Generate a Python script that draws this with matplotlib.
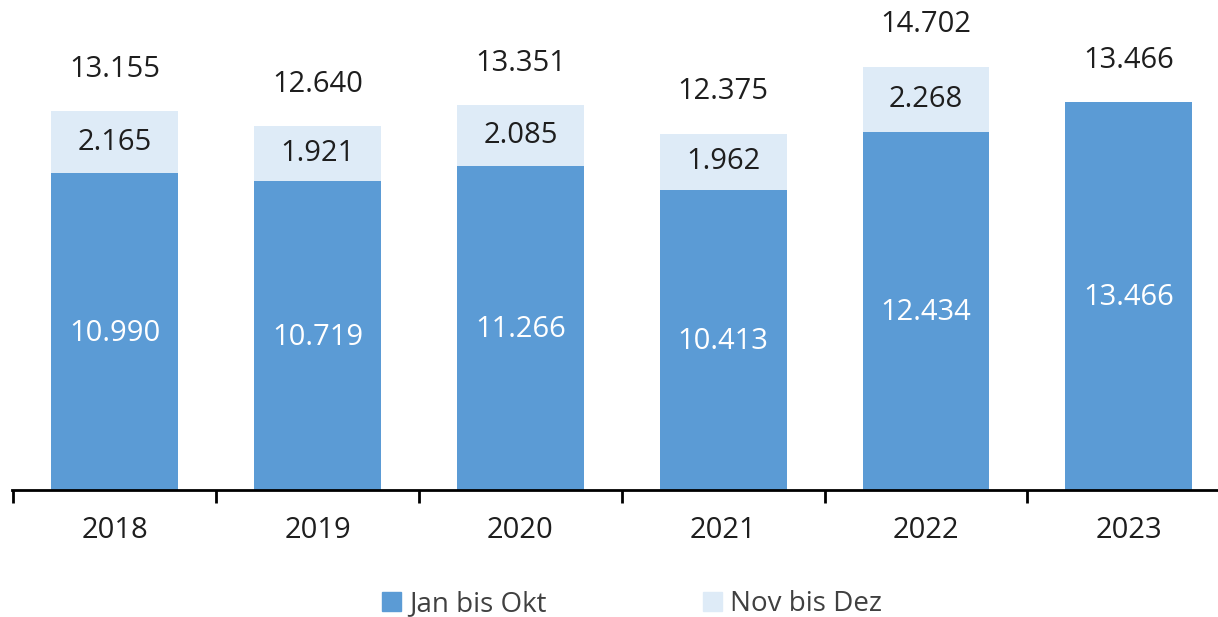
import matplotlib
matplotlib.use("Agg")
import matplotlib.pyplot as plt
from matplotlib.patches import Patch

years = ["2018", "2019", "2020", "2021", "2022", "2023"]
jan_okt = [10.990, 10.719, 11.266, 10.413, 12.434, 13.466]
nov_dez = [2.165, 1.921, 2.085, 1.962, 2.268, 0.0]
totals = [13.155, 12.640, 13.351, 12.375, 14.702, 13.466]

c_dark = "#5B9BD5"
c_light = "#DEEBF7"

plt.rcParams['font.family'] = ['Open Sans', 'DejaVu Sans']

W, H = 1218, 617
fig = plt.figure(figsize=(W / 100, H / 100), dpi=100)
ax = fig.add_axes([12 / W, 127 / H, (W - 12) / W, 490 / H])

x = list(range(len(years)))
bw = 0.626
ax.bar(x, jan_okt, width=bw, color=c_dark, label="Jan bis Okt")
ax.bar(x, nov_dez, width=bw, bottom=jan_okt, color=c_light, label="Nov bis Dez")

def fmt(v):
    return f"{v:.3f}"

fs = 21
tc = "#1e1e1e"
for i in x:
    ax.text(i, jan_okt[i] / 2 - 0.05, fmt(jan_okt[i]), ha="center", va="center",
            color="white", fontsize=fs)
    if nov_dez[i] > 0:
        ax.text(i, jan_okt[i] + nov_dez[i] / 2, fmt(nov_dez[i]), ha="center",
                va="center", color=tc, fontsize=fs)
    ax.text(i, totals[i] + 1.45, fmt(totals[i]), ha="center", va="center",
            color=tc, fontsize=fs)

ax.set_yticks([])
ax.set_xticks([i - 0.5 for i in range(len(years) + 1)])
ax.set_xticklabels([])
ax.set_xticks(x, minor=True)
ax.set_xticklabels(years, minor=True, fontsize=fs, color=tc)
ax.tick_params(axis="x", which="major", direction="out", length=9, width=2, color="black")
ax.tick_params(axis="x", which="minor", length=0, pad=19)
ax.set_xlim(-0.507, -0.507 + (W - 12) / 202.8)
ax.set_ylim(0, 490 / 28.8)
for s in ["top", "right", "left"]:
    ax.spines[s].set_visible(False)
ax.spines["bottom"].set_linewidth(2)
ax.spines["bottom"].set_color("black")

handles = [Patch(color=c_dark, label="Jan bis Okt"), Patch(color=c_light, label="Nov bis Dez")]
fig.legend(handles=handles, loc="center", bbox_to_anchor=(632 / W, 1 - 604 / H), ncol=2,
           frameon=False, fontsize=20, handlelength=0.7, handleheight=0.7,
           handletextpad=0.3, columnspacing=5.6, labelcolor="#404040")

fig.savefig("out.png", dpi=100)
